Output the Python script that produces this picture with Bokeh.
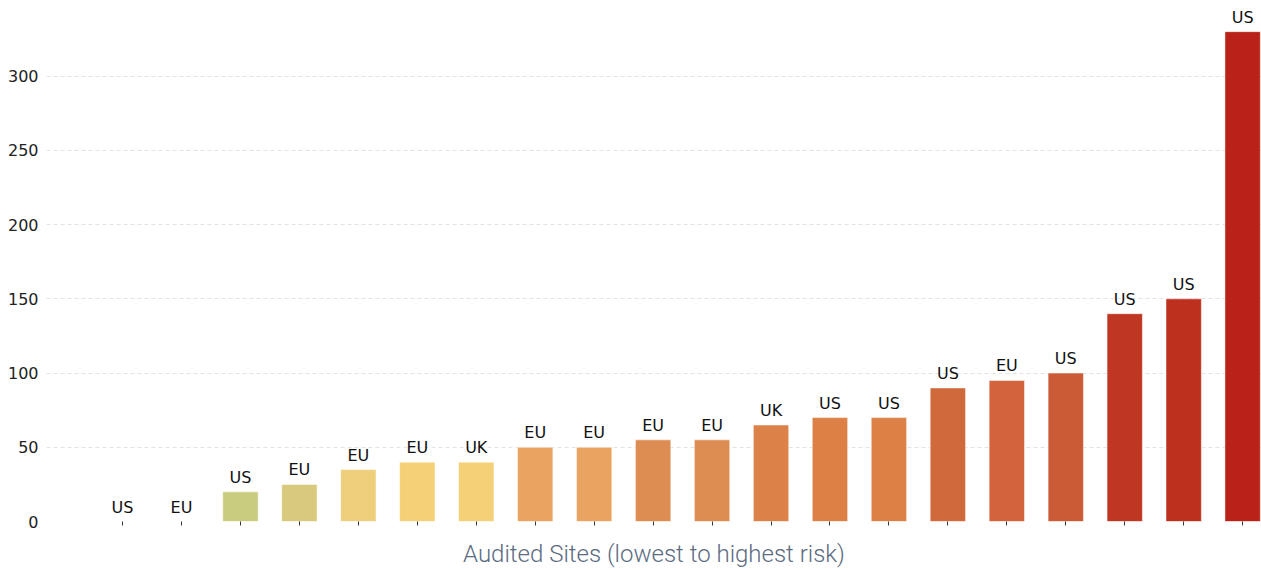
from bokeh.plotting import figure
from bokeh.models import ColumnDataSource, FixedTicker, Range1d, CustomJSTickFormatter
from bokeh.core.properties import value
from bokeh.embed import file_html
from bokeh.resources import INLINE

# Audited sites ordered from lowest to highest risk score
regions = ["US", "EU", "US", "EU", "EU", "EU", "UK", "EU", "EU", "EU",
           "EU", "UK", "US", "US", "US", "EU", "US", "US", "US", "US"]
risk_scores = [0, 0, 20, 25, 35, 40, 40, 50, 50, 55,
               55, 65, 70, 70, 90, 95, 100, 140, 150, 330]
y_ticks = [0, 50, 100, 150, 200, 250, 300]

# Risk colour ramp, green-yellow through orange to red
bar_colors = ["#c9cc7e", "#c9cc7e", "#c9cc7e", "#d8c97c", "#eecf7b",
              "#f5d076", "#f5d076", "#e8a460", "#e8a460", "#dd8d52",
              "#dd8d52", "#dc8148", "#dc8045", "#dc8045", "#d06a3d",
              "#d2633c", "#cb5b36", "#bf3723", "#be301e", "#b82218"]

positions = list(range(len(risk_scores)))
source = ColumnDataSource(dict(x=positions, top=risk_scores,
                               region=regions, color=bar_colors))

p = figure(width=1261, height=570, output_backend="svg", toolbar_location=None,
           x_range=Range1d(-1.29, 19.32), y_range=Range1d(0, 351),
           min_border_left=46, min_border_right=0, min_border_top=0,
           min_border_bottom=49)
p.outline_line_color = None
p.background_fill_color = "white"
p.border_fill_color = "white"

p.vbar(x="x", top="top", width=0.6, bottom=0, source=source,
       fill_color="color", line_color="white", line_alpha=0.5, line_width=1)

p.text(x="x", y="top", text="region", source=source, y_offset=-5,
       text_align="center", text_baseline="bottom",
       text_font=value("DejaVu Sans"), text_font_size="16px", text_color="#111111")

# horizontal dashed grid only
p.xgrid.grid_line_color = None
p.ygrid.grid_line_color = "#e3e3e3"
p.ygrid.grid_line_dash = "4 3"
p.ygrid.grid_line_width = 1

p.yaxis.ticker = FixedTicker(ticks=y_ticks)
p.yaxis.axis_line_color = None
p.yaxis.major_tick_line_color = None
p.yaxis.minor_tick_line_color = None
p.yaxis.major_tick_in = 0
p.yaxis.major_tick_out = 0
p.yaxis.major_label_text_font = "DejaVu Sans"
p.yaxis.major_label_text_font_size = "16px"
p.yaxis.major_label_text_color = "#222222"
p.yaxis.major_label_standoff = 8

p.xaxis.ticker = FixedTicker(ticks=positions)
p.xaxis.formatter = CustomJSTickFormatter(code="return ''")
p.xaxis.axis_line_color = None
p.xaxis.minor_tick_line_color = None
p.xaxis.major_tick_line_color = "#333333"
p.xaxis.major_tick_in = 0
p.xaxis.major_tick_out = 4
p.xaxis.major_label_standoff = 0
p.xaxis.axis_label = "Audited Sites (lowest to highest risk)"
p.xaxis.axis_label_text_font = "Roboto Light, Roboto"
p.xaxis.axis_label_text_font_style = "normal"
p.xaxis.axis_label_text_font_size = "24px"
p.xaxis.axis_label_text_color = "#5b6b80"
p.xaxis.axis_label_standoff = 14

open("out.html", "w").write(file_html(p, INLINE))
